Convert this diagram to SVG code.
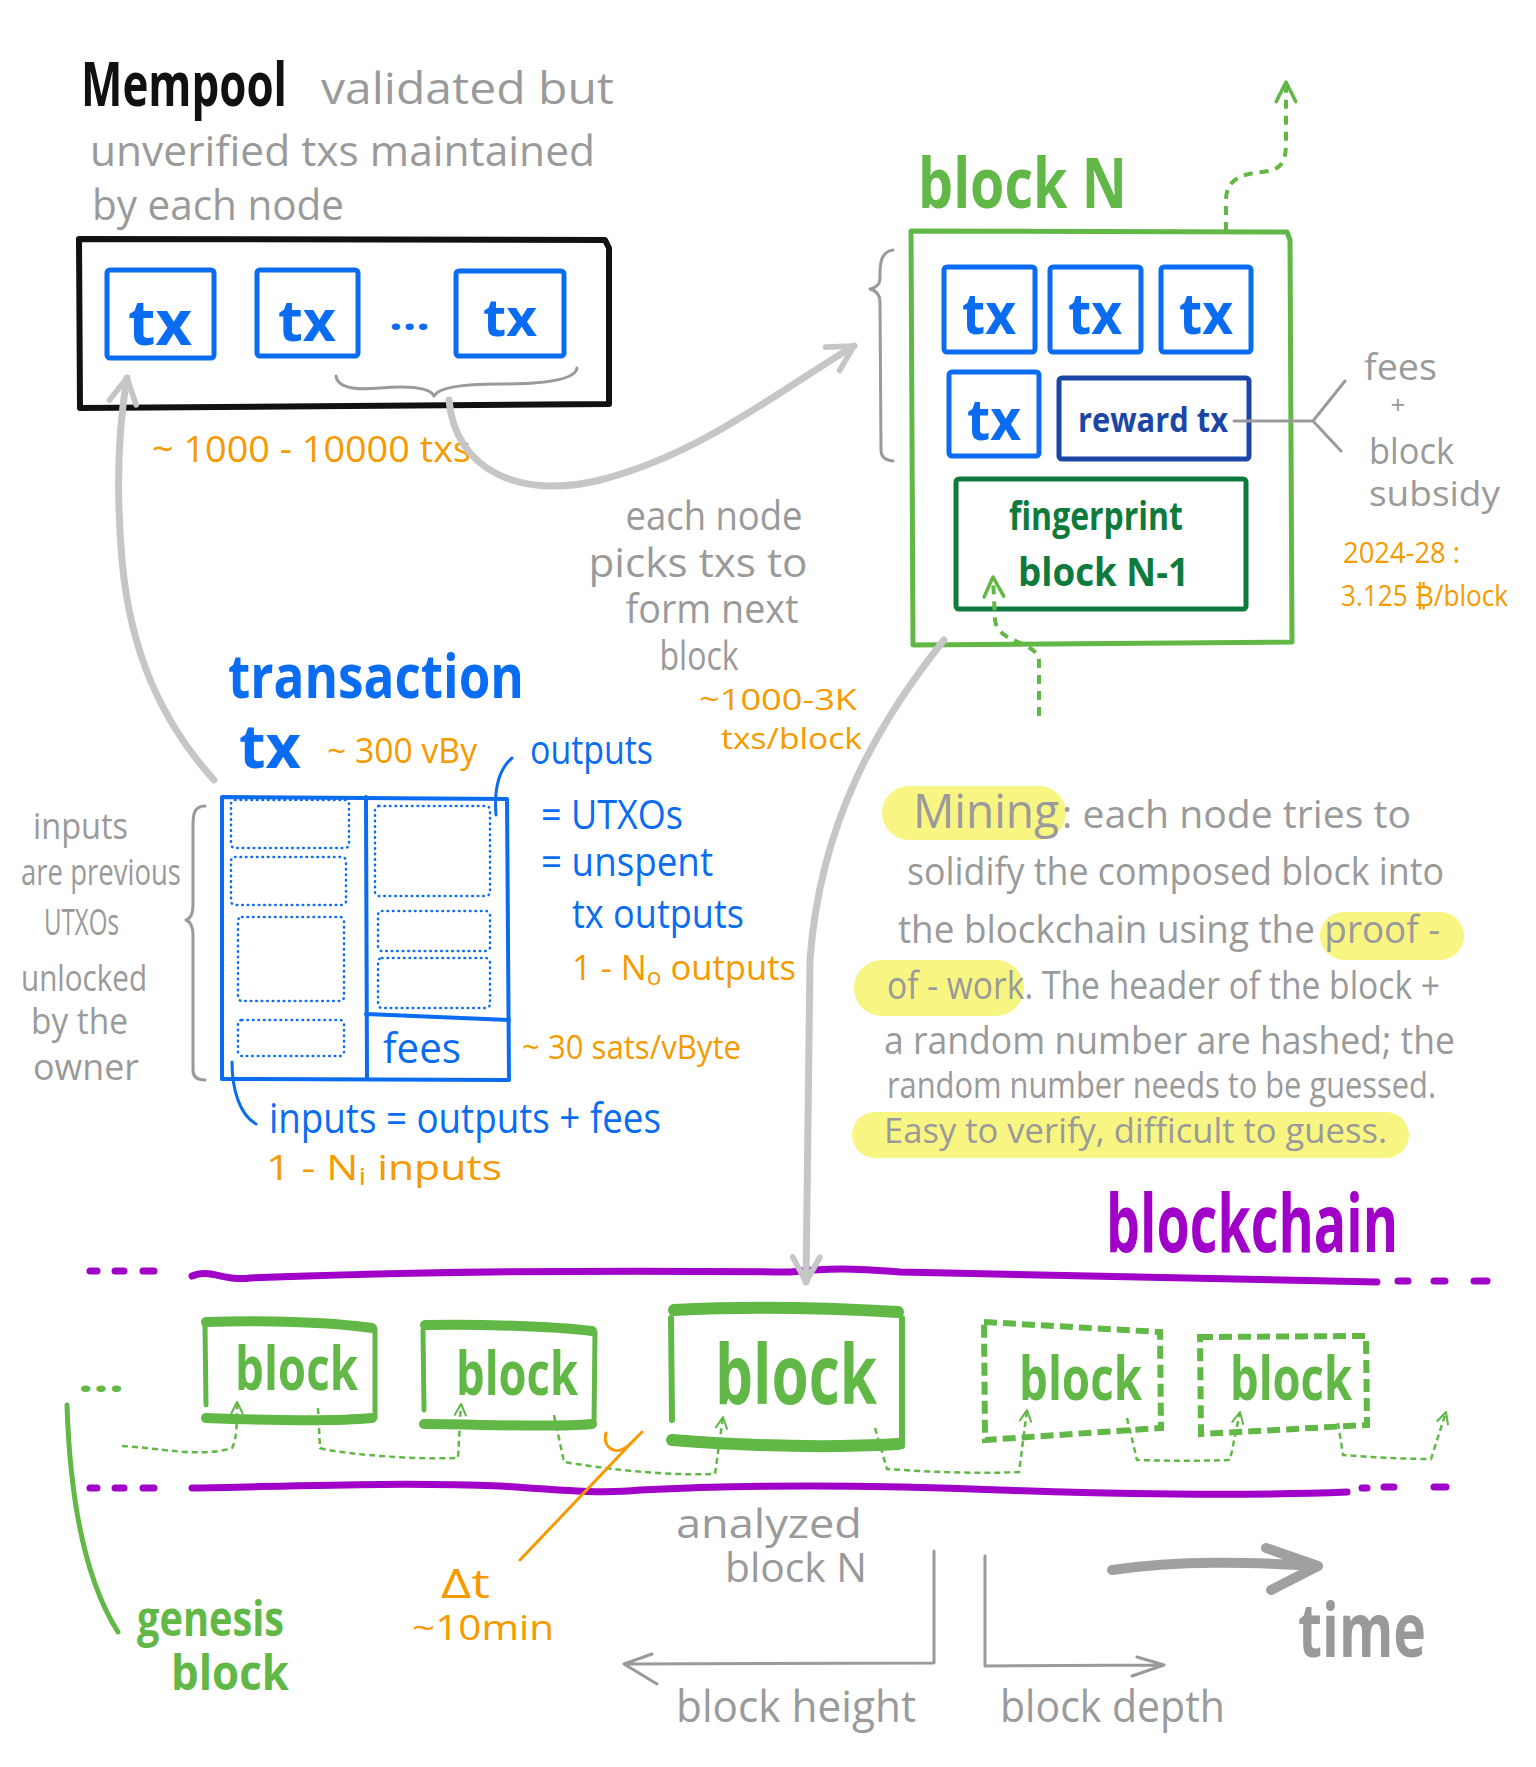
<svg xmlns="http://www.w3.org/2000/svg" width="1536" height="1767" viewBox="0 0 1536 1767">
<style>
text{font-family:"Open Sans","Liberation Sans",sans-serif}
.gr{fill:#9a9a9a}
.bl{fill:#0a6cf0;font-weight:bold}
.or{fill:#f59a00}
.gn{fill:#62b847;font-weight:bold}
.box{fill:none;stroke-linejoin:round;stroke-linecap:round}
.txb{fill:none;stroke:#0a6cf0;stroke-width:5;stroke-linejoin:round}
.dot{fill:none;stroke:#0a6cf0;stroke-width:2.5;stroke-dasharray:0.5 5;stroke-linecap:round}
.garrow{fill:none;stroke:#c6c6c6;stroke-width:7;stroke-linecap:round}
.gline{fill:none;stroke:#9a9a9a;stroke-width:3;stroke-linecap:round;stroke-linejoin:round}
.gdash{fill:none;stroke:#62b847;stroke-width:2.5;stroke-dasharray:6 4}
.pur{fill:none;stroke:#a000c8;stroke-width:7;stroke-linecap:round}
.hl{fill:#f8f582}
</style>
<defs>
<marker id="ahG" viewBox="0 0 30 30" refX="27" refY="15" markerWidth="34" markerHeight="34" orient="auto" markerUnits="userSpaceOnUse">
<path d="M5,3 L27,15 L5,27" fill="none" stroke="#c6c6c6" stroke-width="5" stroke-linecap="round" stroke-linejoin="round"/>
</marker>
<marker id="ahGn" viewBox="0 0 20 20" refX="18" refY="10" markerWidth="16" markerHeight="16" orient="auto" markerUnits="userSpaceOnUse">
<path d="M4,3 L18,10 L4,17" fill="none" stroke="#62b847" stroke-width="2.5" stroke-linecap="round" stroke-linejoin="round"/>
</marker>
<marker id="ahGn2" viewBox="0 0 20 20" refX="18" refY="10" markerWidth="28" markerHeight="28" orient="auto" markerUnits="userSpaceOnUse">
<path d="M4,3 L18,10 L4,17" fill="none" stroke="#62b847" stroke-width="2.5" stroke-linecap="round" stroke-linejoin="round"/>
</marker>
</defs>
<rect width="1536" height="1767" fill="#ffffff"/>

<!-- Mempool -->
<g id="mempool">
<text x="81" y="106" font-size="60" font-weight="bold" fill="#111" textLength="206" lengthAdjust="spacingAndGlyphs">Mempool</text>
<text class="gr" x="321" y="104" font-size="44" textLength="293" lengthAdjust="spacingAndGlyphs">validated but</text>
<text class="gr" x="90" y="166" font-size="42" textLength="505" lengthAdjust="spacingAndGlyphs">unverified txs maintained</text>
<text class="gr" x="92" y="220" font-size="42" textLength="252" lengthAdjust="spacingAndGlyphs">by each node</text>
<path class="box" d="M79,239 L605,240 L609,248 L609,404 L80,408 Z" stroke="#111" stroke-width="6"/>
<rect class="txb" x="107" y="270" width="107" height="88" rx="3"/>
<text class="bl" x="160" y="345" font-size="62" text-anchor="middle" textLength="64" lengthAdjust="spacingAndGlyphs">tx</text>
<rect class="txb" x="257" y="270" width="101" height="86" rx="3"/>
<text class="bl" x="307" y="341" font-size="58" text-anchor="middle" textLength="58" lengthAdjust="spacingAndGlyphs">tx</text>
<text class="bl" x="389" y="330" font-size="40" textLength="41" lengthAdjust="spacingAndGlyphs">...</text>
<rect class="txb" x="456" y="271" width="108" height="85" rx="3"/>
<text class="bl" x="510" y="336" font-size="52" text-anchor="middle" textLength="54" lengthAdjust="spacingAndGlyphs">tx</text>
<path class="gline" d="M336,376 Q338,392 380,388 Q428,384 434,396 Q440,384 500,384 Q575,384 577,368"/>
<text class="or" x="152" y="462" font-size="36" textLength="319" lengthAdjust="spacingAndGlyphs">~ 1000 - 10000 txs</text>
</g>

<!-- Block N -->
<g id="block-n">
<text class="gn" x="918" y="208" font-size="70" textLength="209" lengthAdjust="spacingAndGlyphs">block N</text>
<path class="box" d="M911,231 L1287,232 L1290,240 L1292,642 L913,645 Z" stroke="#62b847" stroke-width="5"/>
<rect class="txb" x="944" y="267" width="91" height="85" rx="3"/>
<text class="bl" x="989" y="334" font-size="58" text-anchor="middle" textLength="54" lengthAdjust="spacingAndGlyphs">tx</text>
<rect class="txb" x="1050" y="267" width="91" height="85" rx="3"/>
<text class="bl" x="1095" y="334" font-size="58" text-anchor="middle" textLength="54" lengthAdjust="spacingAndGlyphs">tx</text>
<rect class="txb" x="1161" y="267" width="90" height="85" rx="3"/>
<text class="bl" x="1206" y="334" font-size="58" text-anchor="middle" textLength="54" lengthAdjust="spacingAndGlyphs">tx</text>
<rect class="txb" x="949" y="372" width="90" height="84" rx="3"/>
<text class="bl" x="994" y="440" font-size="58" text-anchor="middle" textLength="54" lengthAdjust="spacingAndGlyphs">tx</text>
<rect x="1059" y="378" width="190" height="81" rx="3" fill="none" stroke="#1c46a6" stroke-width="5"/>
<text x="1078" y="432" font-size="34" font-weight="bold" fill="#1c46a6" textLength="150" lengthAdjust="spacingAndGlyphs">reward tx</text>
<rect x="956" y="479" width="290" height="130" rx="3" fill="none" stroke="#0e7a3c" stroke-width="5"/>
<text x="1009" y="530" font-size="40" font-weight="bold" fill="#0e7a3c" textLength="174" lengthAdjust="spacingAndGlyphs">fingerprint</text>
<text x="1018" y="586" font-size="40" font-weight="bold" fill="#0e7a3c" textLength="171" lengthAdjust="spacingAndGlyphs">block N-1</text>
<path class="gline" d="M893,250 C879,252 880,268 880,278 Q880,287 870,289 Q880,292 880,302 L881,450 Q881,460 893,461"/>
<text class="gr" x="1364" y="380" font-size="36" textLength="73" lengthAdjust="spacingAndGlyphs">fees</text>
<text class="gr" x="1398" y="414" font-size="26" text-anchor="middle">+</text>
<text class="gr" x="1369" y="464" font-size="36" textLength="85" lengthAdjust="spacingAndGlyphs">block</text>
<text class="gr" x="1369" y="506" font-size="34" textLength="131" lengthAdjust="spacingAndGlyphs">subsidy</text>
<text class="or" x="1343" y="563" font-size="30" textLength="117" lengthAdjust="spacingAndGlyphs">2024-28 :</text>
<text class="or" x="1341" y="606" font-size="30" textLength="167" lengthAdjust="spacingAndGlyphs">3.125 ₿/block</text>
</g>

<!-- picks text -->
<g id="picks-note">
<text class="gr" x="714" y="530" font-size="40" text-anchor="middle" textLength="177" lengthAdjust="spacingAndGlyphs">each node</text>
<text class="gr" x="698" y="577" font-size="40" text-anchor="middle" textLength="219" lengthAdjust="spacingAndGlyphs">picks txs to</text>
<text class="gr" x="712" y="623" font-size="40" text-anchor="middle" textLength="173" lengthAdjust="spacingAndGlyphs">form next</text>
<text class="gr" x="699" y="670" font-size="40" text-anchor="middle" textLength="79" lengthAdjust="spacingAndGlyphs">block</text>
<text class="or" x="699" y="710" font-size="30" textLength="158" lengthAdjust="spacingAndGlyphs">~1000-3K</text>
<text class="or" x="721" y="749" font-size="30" textLength="141" lengthAdjust="spacingAndGlyphs">txs/block</text>
</g>

<!-- Transaction -->
<g id="transaction">
<text class="bl" x="228" y="698" font-size="60" textLength="296" lengthAdjust="spacingAndGlyphs">transaction</text>
<text class="bl" x="239" y="768" font-size="60" textLength="62" lengthAdjust="spacingAndGlyphs">tx</text>
<text class="or" x="327" y="763" font-size="34" textLength="150" lengthAdjust="spacingAndGlyphs">~ 300 vBy</text>
<path class="box" d="M222,797 L507,799 L509,1080 L222,1079 Z" stroke="#0a6cf0" stroke-width="4"/>
<path class="box" d="M366,797 L367,1079 M366,1014 L509,1020" stroke="#0a6cf0" stroke-width="4"/>
<rect class="dot" x="231" y="800" width="118" height="48" rx="4"/>
<rect class="dot" x="231" y="857" width="115" height="48" rx="4"/>
<rect class="dot" x="238" y="917" width="106" height="84" rx="4"/>
<rect class="dot" x="238" y="1020" width="106" height="36" rx="4"/>
<rect class="dot" x="375" y="806" width="115" height="90" rx="4"/>
<rect class="dot" x="378" y="911" width="112" height="40" rx="4"/>
<rect class="dot" x="378" y="958" width="112" height="50" rx="4"/>
<text x="383" y="1063" font-size="42" fill="#0a6cf0" textLength="78" lengthAdjust="spacingAndGlyphs">fees</text>
<path d="M496,815 C494,790 498,770 512,758" fill="none" stroke="#0a6cf0" stroke-width="3" stroke-linecap="round"/>
<text x="530" y="764" font-size="40" fill="#0a6cf0" textLength="123" lengthAdjust="spacingAndGlyphs">outputs</text>
<text x="541" y="829" font-size="40" fill="#0a6cf0" textLength="142" lengthAdjust="spacingAndGlyphs">= UTXOs</text>
<text x="541" y="876" font-size="40" fill="#0a6cf0" textLength="172" lengthAdjust="spacingAndGlyphs">= unspent</text>
<text x="572" y="928" font-size="40" fill="#0a6cf0" textLength="172" lengthAdjust="spacingAndGlyphs">tx outputs</text>
<text class="or" x="572" y="980" font-size="34" textLength="224" lengthAdjust="spacingAndGlyphs">1 - N<tspan font-size="24" dy="5">o</tspan><tspan dy="-5"> outputs</tspan></text>
<text class="or" x="522" y="1059" font-size="32" textLength="219" lengthAdjust="spacingAndGlyphs">~ 30 sats/vByte</text>
<path d="M232,1062 C232,1090 240,1115 256,1124" fill="none" stroke="#0a6cf0" stroke-width="3" stroke-linecap="round"/>
<text x="269" y="1133" font-size="42" fill="#0a6cf0" textLength="392" lengthAdjust="spacingAndGlyphs">inputs = outputs + fees</text>
<text class="or" x="266" y="1180" font-size="34" textLength="236" lengthAdjust="spacingAndGlyphs">1 - N<tspan font-size="24" dy="5">i</tspan><tspan dy="-5"> inputs</tspan></text>
<path class="gline" d="M205,806 C192,806 193,818 193,830 L193,905 Q193,918 186,920 Q193,923 193,935 L193,1070 Q193,1080 205,1080"/>
<text class="gr" x="33" y="839" font-size="36" textLength="95" lengthAdjust="spacingAndGlyphs">inputs</text>
<text class="gr" x="21" y="885" font-size="36" textLength="160" lengthAdjust="spacingAndGlyphs">are previous</text>
<text class="gr" x="44" y="935" font-size="36" textLength="75" lengthAdjust="spacingAndGlyphs">UTXOs</text>
<text class="gr" x="21" y="991" font-size="36" textLength="126" lengthAdjust="spacingAndGlyphs">unlocked</text>
<text class="gr" x="31" y="1034" font-size="36" textLength="97" lengthAdjust="spacingAndGlyphs">by the</text>
<text class="gr" x="33" y="1080" font-size="36" textLength="106" lengthAdjust="spacingAndGlyphs">owner</text>
</g>

<!-- Mining -->
<g id="mining">
<rect class="hl" x="882" y="786" width="184" height="54" rx="27"/>
<rect class="hl" x="1320" y="912" width="144" height="48" rx="24"/>
<rect class="hl" x="854" y="960" width="170" height="56" rx="28"/>
<rect class="hl" x="852" y="1112" width="557" height="46" rx="23"/>
<text class="gr" x="913" y="828" font-size="48" textLength="146" lengthAdjust="spacingAndGlyphs">Mining</text>
<text class="gr" x="1062" y="828" font-size="38" textLength="349" lengthAdjust="spacingAndGlyphs">: each node tries to</text>
<text class="gr" x="907" y="885" font-size="38" textLength="537" lengthAdjust="spacingAndGlyphs">solidify the composed block into</text>
<text class="gr" x="898" y="943" font-size="38" textLength="542" lengthAdjust="spacingAndGlyphs">the blockchain using the proof -</text>
<text class="gr" x="887" y="999" font-size="38" textLength="553" lengthAdjust="spacingAndGlyphs">of - work. The header of the block +</text>
<text class="gr" x="884" y="1054" font-size="38" textLength="571" lengthAdjust="spacingAndGlyphs">a random number are hashed; the</text>
<text class="gr" x="887" y="1098" font-size="36" textLength="549" lengthAdjust="spacingAndGlyphs">random number needs to be guessed.</text>
<text class="gr" x="884" y="1143" font-size="34" textLength="503" lengthAdjust="spacingAndGlyphs">Easy to verify, difficult to guess.</text>
</g>

<!-- Blockchain -->
<g id="blockchain">
<text x="1106" y="1252" font-size="80" font-weight="bold" fill="#a000c8" textLength="292" lengthAdjust="spacingAndGlyphs">blockchain</text>
<path class="pur" d="M192,1276 C210,1268 225,1282 250,1278 C400,1272 600,1270 790,1272 C830,1268 850,1268 900,1272 C1100,1275 1250,1280 1377,1282"/>
<path class="pur" d="M90,1271 L97,1271 M115,1271 L124,1271 M143,1271 L154,1271 M1398,1281 L1408,1281 M1434,1281 L1445,1281 M1474,1281 L1487,1281"/>
<path class="pur" d="M192,1488 C300,1486 400,1482 500,1486 C560,1490 600,1494 640,1490 C760,1484 900,1486 1000,1490 C1100,1494 1250,1496 1347,1492"/>
<path class="pur" d="M90,1488 L97,1488 M115,1488 L124,1488 M143,1488 L154,1488 M1362,1488 L1367,1488 M1384,1487 L1394,1487 M1434,1487 L1446,1487"/>
</g>

<g id="chain-dots">
<text x="78" y="1392" font-size="40" font-weight="bold" fill="#62b847" textLength="46" lengthAdjust="spacingAndGlyphs">...</text>
</g>

<g id="block-1">
<path class="box" d="M206,1405 L205,1326 M375,1329 L375,1418" stroke="#62b847" stroke-width="5"/>
<path class="box" d="M206,1322 C260,1320 330,1322 372,1328 M206,1418 C260,1420 330,1422 372,1418" stroke="#62b847" stroke-width="10"/>
<text class="gn" x="235" y="1390" font-size="60" textLength="123" lengthAdjust="spacingAndGlyphs">block</text>
</g>
<g id="block-2">
<path class="box" d="M424,1410 L423,1330 M595,1332 L594,1424" stroke="#62b847" stroke-width="5"/>
<path class="box" d="M425,1325 C480,1324 550,1326 592,1331 M424,1424 C480,1424 550,1428 592,1424" stroke="#62b847" stroke-width="10"/>
<text class="gn" x="456" y="1395" font-size="60" textLength="122" lengthAdjust="spacingAndGlyphs">block</text>
</g>
<g id="block-3">
<path class="box" d="M672,1420 L671,1318 M902,1318 L902,1446" stroke="#62b847" stroke-width="6"/>
<path class="box" d="M674,1310 C750,1306 830,1308 898,1312 M672,1440 C750,1446 830,1448 898,1444" stroke="#62b847" stroke-width="12"/>
<text class="gn" x="715" y="1404" font-size="82" textLength="162" lengthAdjust="spacingAndGlyphs">block</text>
</g>
<g id="block-4">
<path d="M984,1322 L1160,1332 L1161,1428 L985,1440 Z" fill="none" stroke="#62b847" stroke-width="6" stroke-dasharray="13 6"/>
<text class="gn" x="1019" y="1400" font-size="60" textLength="123" lengthAdjust="spacingAndGlyphs">block</text>
</g>
<g id="block-5">
<path d="M1200,1337 L1366,1336 L1367,1425 L1201,1434 Z" fill="none" stroke="#62b847" stroke-width="6" stroke-dasharray="13 6"/>
<text class="gn" x="1230" y="1400" font-size="60" textLength="122" lengthAdjust="spacingAndGlyphs">block</text>
</g>

<g id="genesis">
<path d="M67,1405 C70,1500 85,1580 118,1632" fill="none" stroke="#62b847" stroke-width="5" stroke-linecap="round"/>
<text class="gn" x="137" y="1636" font-size="48" textLength="147" lengthAdjust="spacingAndGlyphs">genesis</text>
<text class="gn" x="171" y="1690" font-size="48" textLength="118" lengthAdjust="spacingAndGlyphs">block</text>
</g>

<g id="delta-t">
<text class="or" x="441" y="1598" font-size="40" textLength="49" lengthAdjust="spacingAndGlyphs">Δt</text>
<text class="or" x="412" y="1640" font-size="34" textLength="142" lengthAdjust="spacingAndGlyphs">~10min</text>
</g>

<g id="height-depth">
<text class="gr" x="676" y="1538" font-size="40" textLength="186" lengthAdjust="spacingAndGlyphs">analyzed</text>
<text class="gr" x="725" y="1582" font-size="40" textLength="142" lengthAdjust="spacingAndGlyphs">block N</text>
<text class="gr" x="676" y="1722" font-size="44" textLength="240" lengthAdjust="spacingAndGlyphs">block height</text>
<text class="gr" x="1000" y="1722" font-size="44" textLength="225" lengthAdjust="spacingAndGlyphs">block depth</text>
<text x="1298" y="1657" font-size="76" font-weight="bold" fill="#999" textLength="128" lengthAdjust="spacingAndGlyphs">time</text>
</g>

<!-- connectors -->
<g id="connectors">
<path class="garrow" d="M449,400 C455,470 520,500 600,480 C700,455 780,390 854,346" marker-end="url(#ahG)"/>
<path class="garrow" d="M214,780 C160,720 130,650 122,560 C116,490 118,430 127,378" marker-end="url(#ahG)"/>
<path class="garrow" d="M944,640 C880,720 820,820 810,960 L806,1282" marker-end="url(#ahG)"/>
<path d="M1039,716 L1039,662 C1039,640 998,645 995,620 L993,577" fill="none" stroke="#62b847" stroke-width="4" stroke-dasharray="9 7" marker-end="url(#ahGn2)"/>
<path d="M1226,231 L1226,200 C1226,180 1240,174 1262,172 C1284,170 1286,160 1286,140 L1286,82" fill="none" stroke="#62b847" stroke-width="4" stroke-dasharray="9 7" marker-end="url(#ahGn2)"/>
<path class="gline" d="M1234,421 L1313,421 L1345,381 M1313,421 L1341,451" stroke-width="2.5"/>
<path class="gdash" d="M122,1446 C160,1448 200,1458 232,1448 C237,1440 237,1420 237,1402" marker-end="url(#ahGn)"/>
<path class="gdash" d="M318,1408 L320,1448 C330,1452 400,1460 458,1458 L461,1404" marker-end="url(#ahGn)"/>
<path class="gdash" d="M554,1415 L564,1462 C600,1468 660,1476 715,1474 L723,1417" marker-end="url(#ahGn)"/>
<path class="gdash" d="M875,1428 L887,1469 C930,1472 980,1474 1019,1472 L1027,1410" marker-end="url(#ahGn)"/>
<path class="gdash" d="M1127,1418 L1137,1460 C1170,1461 1200,1461 1230,1460 L1240,1412" marker-end="url(#ahGn)"/>
<path class="gdash" d="M1338,1423 L1343,1455 C1370,1457 1400,1459 1431,1459 L1446,1412" marker-end="url(#ahGn)"/>
<path d="M520,1560 L636,1438 M606,1433 C602,1448 616,1456 628,1446 L642,1432" fill="none" stroke="#f59a00" stroke-width="3" stroke-linecap="round" stroke-linejoin="round"/>
<path class="gline" d="M934,1551 L934,1663 L627,1664 M652,1654 L624,1664 L657,1684"/>
<path class="gline" d="M985,1556 L985,1666 L1163,1665 M1137,1657 L1164,1665 L1132,1676"/>
<path d="M1112,1570 C1180,1560 1250,1562 1316,1566 M1266,1548 L1318,1566 L1271,1590" fill="none" stroke="#a0a0a0" stroke-width="10" stroke-linecap="round" stroke-linejoin="round"/>
</g>
</svg>
